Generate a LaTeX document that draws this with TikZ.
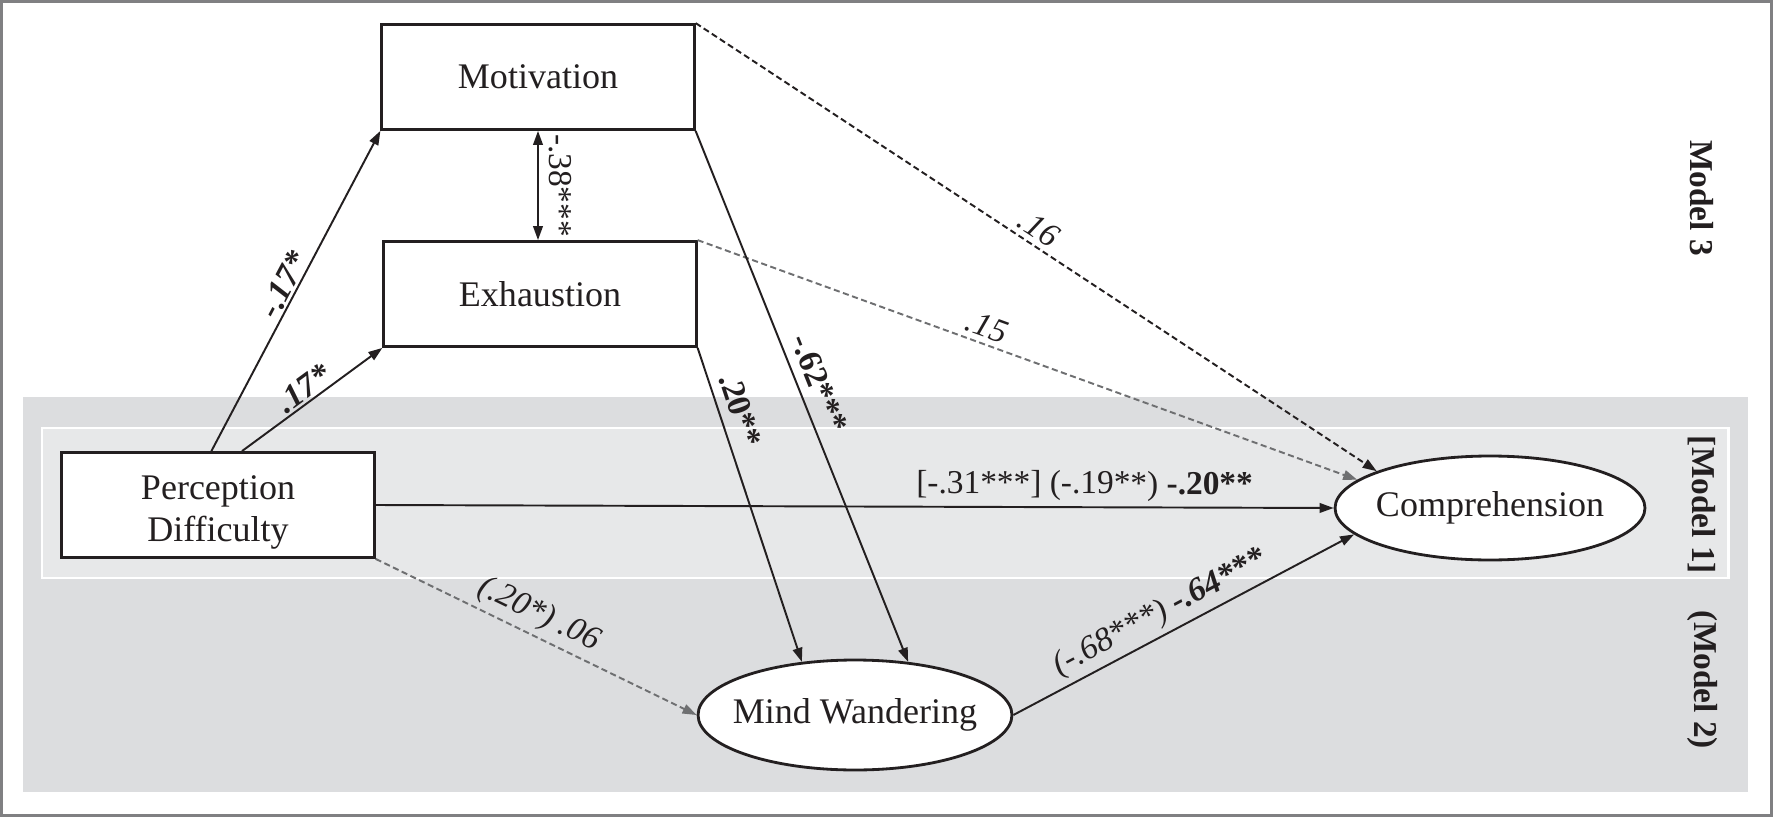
\documentclass[tikz,border=0pt]{standalone}
\usepackage{fontspec}
\setmainfont{Liberation Serif}
\usetikzlibrary{shapes.geometric}
\usetikzlibrary{arrows.meta}
\usetikzlibrary{positioning}

\definecolor{inkblack}{RGB}{35,31,32}
\definecolor{dashgray}{RGB}{110,111,113}
\definecolor{framegray}{RGB}{128,128,130}
\definecolor{outerband}{RGB}{220,221,223}
\definecolor{innerband}{RGB}{231,232,233}

\tikzset{
    observed/.style = {draw, rectangle, fill = white, line width = 1.6pt,
        minimum width = 6.25cm, minimum height = 2.1cm, align = center,
        font = \fontsize{20.5}{24}\selectfont},
    latent/.style = {draw, ellipse, fill = white, line width = 1.6pt,
        inner xsep = -0.3cm, inner ysep = 0pt,
        font = \fontsize{20.5}{24}\selectfont},
    effect/.style = {->, line width = 1.1pt},
    nulleffect/.style = {effect, dash pattern = on 3.5pt off 2pt},
    coef/.style = {sloped, above, inner sep = 3pt},
    coefrm/.style = {coef, font = \fontsize{19}{22}\selectfont},
    coefit/.style = {coef, font = \fontsize{19}{22}\selectfont\itshape},
    coefbf/.style = {coef, font = \fontsize{19}{22}\selectfont\bfseries},
    coefbi/.style = {coef, font = \fontsize{19}{22}\selectfont\bfseries\itshape},
    modeltag/.style = {rotate = -90, font = \fontsize{19}{22}\selectfont\bfseries}
}

\begin{document}
\begin{tikzpicture}[x = 0.02cm, y = -0.02cm, inkblack,
    > = {Triangle[length = 8pt, width = 5.5pt]}]

    \useasboundingbox (0,0) rectangle (1773,817);

    % bands for model 2 and model 1
    \fill[outerband] (23,397) rectangle (1748,792);
    \draw[fill = innerband, draw = white, line width = 1.7pt] (42,428) rectangle (1728,578);
    \draw[framegray, line width = 1.7pt] (1.5,1.5) rectangle (1771.5,815.5);

    \node[observed] (Mot) at (538,77) {Motivation};
    \node[observed] (Exh) at (540,294) {Exhaustion};
    \node[observed] (PD) at (218,505) {\rule{0pt}{22pt}Perception\\Difficulty};
    \node[latent, minimum width = 6.2cm, minimum height = 2.08cm] (Comp) at (1490,508) {Comprehension};
    \node[latent, minimum width = 6.28cm, minimum height = 2.2cm] (MW) at (855,715) {Mind Wandering};

    \foreach \NUM/\YPOS/\TXT in {3/198/Model 3, 1/505/{[Model 1]}, 2/680/{(Model 2)}}
        \node[modeltag] (Model\NUM) at (1702,\YPOS) {\TXT};

    \draw[effect] (PD.97) -- node[coefbi, inner sep = 1pt] (cMot) {-.17*} (Mot.south west);
    \draw[effect] (PD.66) -- node[coefbi, inner sep = 1pt] (cExh) {.17*} (Exh.south west);
    \draw[<->, line width = 1.1pt] (Mot.south) -- (Mot.south |- Exh.north)
        node[midway, rotate = -90, anchor = south, inner sep = 6pt,
            font = \fontsize{19}{22}\selectfont] (cCov) {-.38***};

    \draw[nulleffect] (Mot.north east) -- node[coefit, pos = 0.49] (cMotC) {.16} (Comp.162);
    \draw[nulleffect, draw = dashgray] (Exh.north east) -- node[coefit, pos = 0.43] (cExhC) {.15} (Comp.168);

    \draw[effect] (Mot.south east) -- node[coefbf, pos = 0.49, inner sep = 5pt] (cMotW) {-.62***} (MW.45);
    \draw[effect] (Exh.south east) -- node[coefbf, pos = 0.22, inner sep = 5pt] (cExhW) {.20**} (MW.135);

    \draw[effect] (PD.east) -- node[coefrm, pos = 0.74] (cDir) {[-.31***] (-.19**) \textbf{-.20**}} (Comp.west);
    \draw[nulleffect, draw = dashgray] (PD.south east) -- node[coefit, pos = 0.48] (cPDW) {(.20*) .06} (MW.west);
    \draw[effect] (MW.east) -- node[coefit, pos = 0.46] (cWC) {(-.68***) \textbf{-.64***}} (Comp.191);

\end{tikzpicture}
\end{document}
